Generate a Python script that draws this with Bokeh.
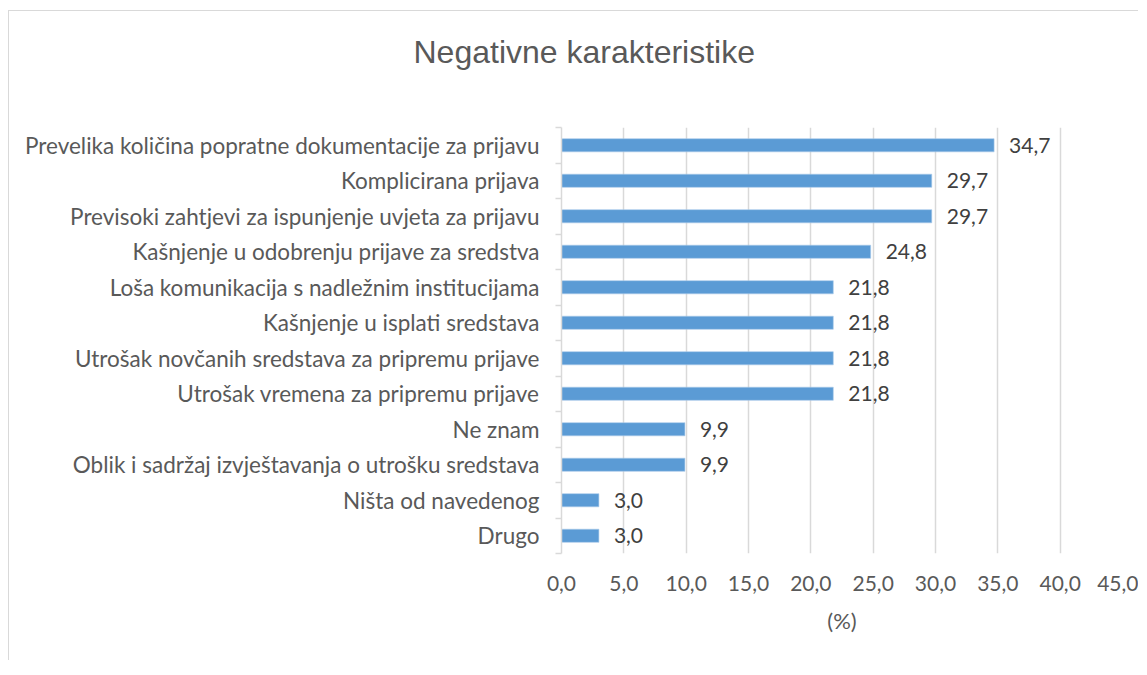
from bokeh.plotting import figure
from bokeh.models import Range1d, FixedTicker
from bokeh.core.properties import value
from bokeh.embed import file_html
from bokeh.resources import INLINE

title_text = "Negativne karakteristike"
categories = [
    "Prevelika količina popratne dokumentacije za prijavu",
    "Komplicirana prijava",
    "Previsoki zahtjevi za ispunjenje uvjeta za prijavu",
    "Kašnjenje u odobrenju prijave za sredstva",
    "Loša komunikacija s nadležnim institucijama",
    "Kašnjenje u isplati sredstava",
    "Utrošak novčanih sredstava za pripremu prijave",
    "Utrošak vremena za pripremu prijave",
    "Ne znam",
    "Oblik i sadržaj izvještavanja o utrošku sredstava",
    "Ništa od navedenog",
    "Drugo",
]
values = [34.7, 29.7, 29.7, 24.8, 21.8, 21.8, 21.8, 21.8, 9.9, 9.9, 3.0, 3.0]
x_ticks = [0, 5, 10, 15, 20, 25, 30, 35, 40, 45]
x_tick_labels = ["0,0", "5,0", "10,0", "15,0", "20,0", "25,0", "30,0", "35,0", "40,0", "45,0"]
x_axis_label = "(%)"

n = len(categories)
idx = list(range(n))
value_labels = [f"{v:.1f}".replace(".", ",") for v in values]

FONT = "Lato"
GREY = "#595959"
LINE = "#d9d9d9"

p = figure(
    width=1130, height=650,
    x_range=Range1d(0, 45), y_range=Range1d(n - 0.5, -0.5),
    output_backend="svg", toolbar_location=None,
    min_border_left=552, min_border_right=17, min_border_top=116, min_border_bottom=108,
)
p.styles = {"border-left": "1.5px solid #d9d9d9", "border-top": "1.5px solid #d9d9d9",
            "margin-left": "8px", "margin-top": "10px"}
p.outline_line_color = None
p.background_fill_color = "white"
p.border_fill_color = "white"

# trailing blank line keeps the title well above the plot area
p.title.text = title_text + "\n"
p.title.text_font = "Liberation Sans"
p.title.text_font_size = "32px"
p.title.text_font_style = "normal"
p.title.text_color = GREY
p.title.align = "left"
p.title.vertical_align = "top"
p.title.offset = -148
p.title.standoff = 40

p.hbar(y=idx, right=values, left=0, height=0.37, color="#5b9bd5", line_color="#a9c9ea", line_width=0.6)
p.text(x=values, y=idx, text=value_labels, x_offset=15, text_align="left", text_baseline="middle",
       text_font=value(FONT), text_font_size="21px", text_color="#404040")

# x axis
p.xaxis.ticker = FixedTicker(ticks=x_ticks)
p.xaxis.major_label_overrides = {t: l for t, l in zip(x_ticks, x_tick_labels)}
p.xaxis.axis_line_color = None
p.xaxis.major_tick_line_color = None
p.xaxis.minor_tick_line_color = None
p.xaxis.major_label_standoff = 16
p.xaxis.major_label_text_font = FONT
p.xaxis.major_label_text_font_size = "21px"
p.xaxis.major_label_text_color = GREY
p.xaxis.axis_label = x_axis_label
p.xaxis.axis_label_text_font = FONT
p.xaxis.axis_label_text_font_size = "22px"
p.xaxis.axis_label_text_font_style = "normal"
p.xaxis.axis_label_text_color = GREY
p.xaxis.axis_label_standoff = 13

p.xgrid.ticker = FixedTicker(ticks=x_ticks)
p.xgrid.grid_line_color = LINE
p.xgrid.grid_line_width = 1.5
p.ygrid.grid_line_color = None

# y axis
p.yaxis.ticker = FixedTicker(ticks=idx, minor_ticks=[i - 0.5 for i in idx] + [n - 0.5])
p.yaxis.major_label_overrides = {i: c for i, c in zip(idx, categories)}
p.yaxis.axis_line_color = LINE
p.yaxis.axis_line_width = 1.5
p.yaxis.major_tick_line_color = None
p.yaxis.minor_tick_line_color = LINE
p.yaxis.minor_tick_line_width = 1.5
p.yaxis.minor_tick_out = 6
p.yaxis.minor_tick_in = 0
p.yaxis.major_label_standoff = 16
p.yaxis.major_label_text_font = FONT
p.yaxis.major_label_text_font_size = "22.5px"
p.yaxis.major_label_text_color = GREY

open("out.html", "w").write(file_html(p, INLINE))
